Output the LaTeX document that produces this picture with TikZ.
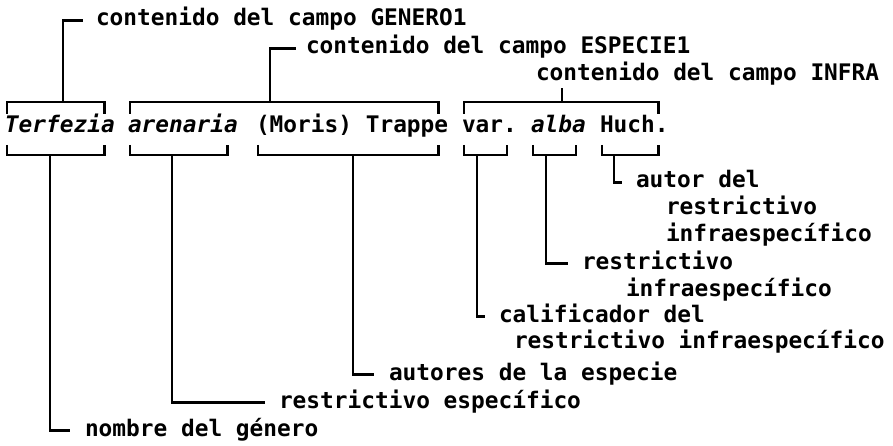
\documentclass[tikz,border=0pt]{standalone}
\usepackage{fontspec}
\setmainfont{DejaVu Sans Mono}
\usetikzlibrary{calc}
\begin{document}
\begin{tikzpicture}[x=1pt,y=-1pt,
  txt/.style={inner sep=0pt, outer sep=0pt, anchor=base west,
    font=\fontsize{22.8}{26.5}\selectfont\bfseries,
    text height=16pt, text depth=4.5pt},
  itxt/.style={txt, font=\fontsize{22.8}{26.5}\selectfont\bfseries\itshape},
  ln/.style={line width=2.8pt, line cap=butt, line join=miter},
]
\useasboundingbox (0,0) rectangle (893,446);
% main line
\node[itxt] (w1) at (5,133) {Terfezia};
\node[itxt] (w2) at (128,133) {arenaria};
\node[txt]  (w3) at (256,133) {(Moris) Trappe};
\node[txt]  (w4) at (462,133) {var.};
\node[itxt] (w5) at (531,133) {alba};
\node[txt]  (w6) at (600,133) {Huch.};
% top labels
\node[txt] (lg) at (96,26) {contenido del campo GENERO1};
\node[txt] (le) at (306,54) {contenido del campo ESPECIE1};
\node[txt] (li) at (536,81) {contenido del campo INFRA};
% bottom labels
\node[txt] (lat) at (636,188) {autor del};
\node[txt] (lat2) at ($(lat.base west)+(30,26.5)$) {restrictivo};
\node[txt] (lat3) at ($(lat2.base west)+(0,26.5)$) {infraespecífico};
\node[txt] (lra) at (582,269) {restrictivo};
\node[txt] (lra2) at ($(lra.base west)+(44,27)$) {infraespecífico};
\node[txt] (lca) at (499,322) {calificador del};
\node[txt] (lca2) at ($(lca.base west)+(15,26.5)$) {restrictivo infraespecífico};
\node[txt] (lau) at (389,380) {autores de la especie};
\node[txt] (lre) at (279,408) {restrictivo específico};
\node[txt] (lno) at (85,436) {nombre del género};
% top brackets
\draw[ln] ($(w1.north west)+(2,-3)$) -- ($(w1.north west)+(2,-15)$) -- ($(w1.north east)+(-10,-15)$) -- ($(w1.north east)+(-10,-3)$);
\draw[ln] ($(w2.north west)+(2,-3)$) -- ($(w2.north west)+(2,-15)$) -- ($(w3.north east)+(-10,-15)$) -- ($(w3.north east)+(-10,-3)$);
\draw[ln] ($(w4.north west)+(2,-3)$) -- ($(w4.north west)+(2,-15)$) -- ($(w6.north east)+(-10,-15)$) -- ($(w6.north east)+(-10,-3)$);
% bottom brackets
\foreach \w in {w1,w2,w3,w4,w5,w6}{
  \draw[ln] ($(\w.south west)+(2,7.5)$) -- ($(\w.south west)+(2,17.5)$) -- ($(\w.south east)+(-10,17.5)$) -- ($(\w.south east)+(-10,7.5)$);
}
% top stems
\draw[ln] ($(w1.north west)+(58,-15)$) |- ($(lg.west)+(-13,0)$);
\draw[ln] ($(w2.north west)+(142,-15)$) |- ($(le.west)+(-10,0)$);
\coordinate (si) at ($(w4.north west)+(100,-15)$);
\draw[ln] (si) -- ($(si |- li.south)+(0,3)$);
% bottom stems
\draw[ln] ($(w1.south west)+(45,17.5)$) |- ($(lno.west)+(-15,0)$);
\draw[ln] ($(w2.south west)+(44,17.5)$) |- ($(lre.west)+(-14,0)$);
\draw[ln] ($(w3.south west)+(97,17.5)$) |- ($(lau.west)+(-15,0)$);
\draw[ln] ($(w4.south west)+(15,17.5)$) |- ($(lca.west)+(-14,0)$);
\draw[ln] ($(w5.south west)+(15,17.5)$) |- ($(lra.west)+(-14,0)$);
\draw[ln] ($(w6.south west)+(14,17.5)$) |- ($(lat.west)+(-14,0)$);
\end{tikzpicture}
\end{document}
